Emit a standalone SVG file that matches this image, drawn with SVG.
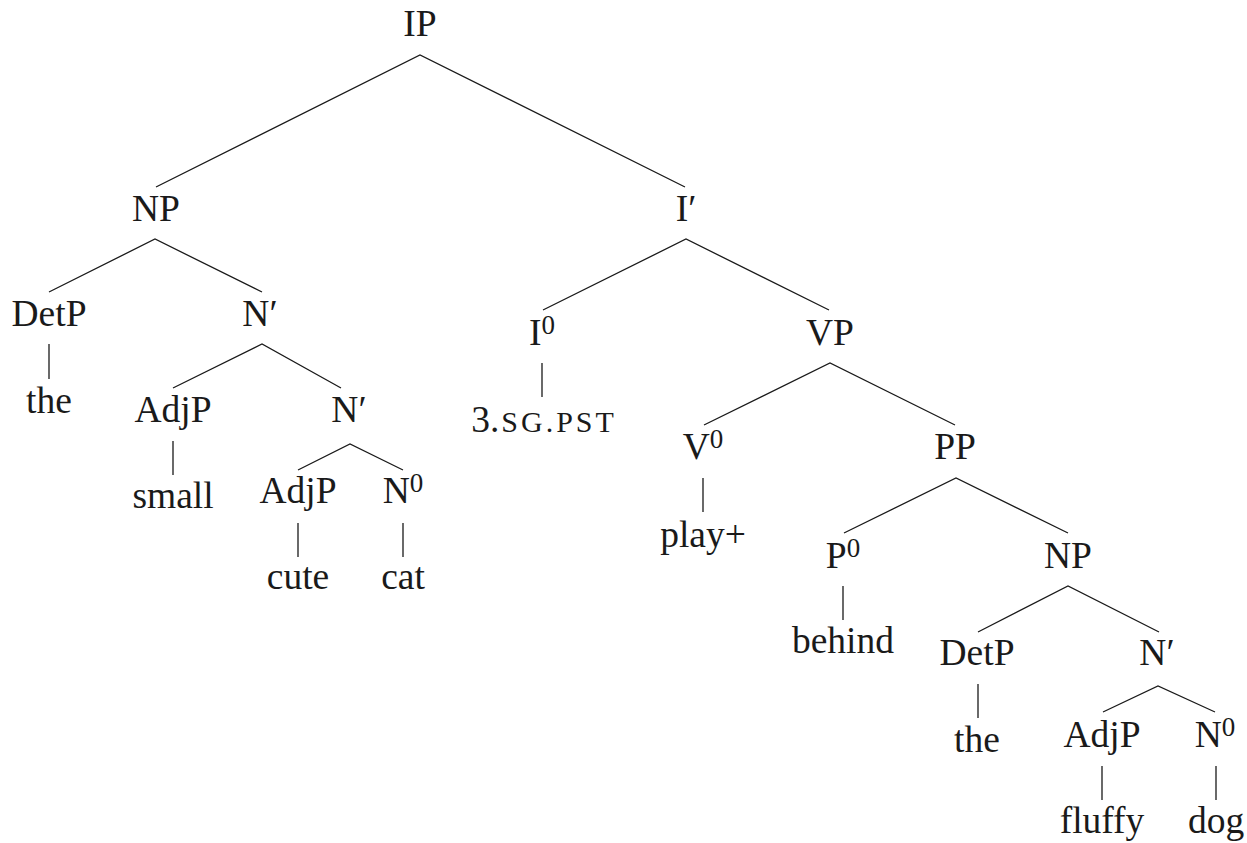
<svg xmlns="http://www.w3.org/2000/svg" width="1247" height="843" viewBox="0 0 1247 843">
<style>
  .lbl { font-family: "Liberation Serif", "Times New Roman", serif; font-size: 37.5px; fill: #1a1a1a; text-anchor: middle; }
  .sup { font-size: 27px; }
  .sc { font-size: 30px; letter-spacing: 3px; }
  .edge { fill: none; stroke: #1a1a1a; stroke-width: 1.3; }
</style>
<rect width="1247" height="843" fill="#ffffff"/>
<g id="connectors">
  <polyline class="edge" points="156,187 420,55 685,187"/>
  <polyline class="edge" points="49,292 155,239 262,292"/>
  <line class="edge" x1="49" y1="344" x2="49" y2="379"/>
  <polyline class="edge" points="173,388 262,344 341,388"/>
  <line class="edge" x1="173" y1="441" x2="173" y2="475"/>
  <polyline class="edge" points="298,470 350,444 403,470"/>
  <line class="edge" x1="298" y1="523" x2="298" y2="557"/>
  <line class="edge" x1="403" y1="523" x2="403" y2="557"/>
  <polyline class="edge" points="543,310 686,239 829,310"/>
  <line class="edge" x1="542" y1="363" x2="542" y2="397"/>
  <polyline class="edge" points="704,425 830,363 955,425"/>
  <line class="edge" x1="703" y1="478" x2="703" y2="512"/>
  <polyline class="edge" points="844,533 956,478 1068,533"/>
  <line class="edge" x1="843" y1="586" x2="843" y2="620"/>
  <polyline class="edge" points="978,632 1068,586 1159,632"/>
  <line class="edge" x1="978" y1="684" x2="978" y2="718"/>
  <polyline class="edge" points="1103,712 1158,686 1215,712"/>
  <line class="edge" x1="1102" y1="766" x2="1102" y2="800"/>
  <line class="edge" x1="1216" y1="766" x2="1216" y2="800"/>
</g>
<g id="node-IP"><text class="lbl" x="420" y="36">IP</text></g>
<g id="node-NP1"><text class="lbl" x="156" y="221">NP</text></g>
<g id="node-Ibar"><text class="lbl" x="686" y="221">I′</text></g>
<g id="node-DetP1"><text class="lbl" x="49" y="326">DetP</text></g>
<g id="node-Nbar1"><text class="lbl" x="260" y="326">N′</text></g>
<g id="node-the1"><text class="lbl" x="49" y="413">the</text></g>
<g id="node-AdjP1"><text class="lbl" x="173" y="422">AdjP</text></g>
<g id="node-Nbar2"><text class="lbl" x="349" y="422">N′</text></g>
<g id="node-small"><text class="lbl" x="173" y="508">small</text></g>
<g id="node-AdjP2"><text class="lbl" x="298" y="503">AdjP</text></g>
<g id="node-N0a"><text class="lbl" x="403" y="503">N<tspan class="sup" dy="-11">0</tspan></text></g>
<g id="node-cute"><text class="lbl" x="298" y="589">cute</text></g>
<g id="node-cat"><text class="lbl" x="403" y="589">cat</text></g>
<g id="node-I0"><text class="lbl" x="542" y="345">I<tspan class="sup" dy="-11">0</tspan></text></g>
<g id="node-infl"><text class="lbl" x="544" y="432">3.<tspan class="sc" dx="2">SG.PST</tspan></text></g>
<g id="node-VP"><text class="lbl" x="830" y="345">VP</text></g>
<g id="node-V0"><text class="lbl" x="703" y="459">V<tspan class="sup" dy="-11">0</tspan></text></g>
<g id="node-play"><text class="lbl" x="703" y="547">play+</text></g>
<g id="node-PP"><text class="lbl" x="955" y="459">PP</text></g>
<g id="node-P0"><text class="lbl" x="843" y="568">P<tspan class="sup" dy="-11">0</tspan></text></g>
<g id="node-behind"><text class="lbl" x="843" y="653">behind</text></g>
<g id="node-NP2"><text class="lbl" x="1068" y="568">NP</text></g>
<g id="node-DetP2"><text class="lbl" x="977" y="665">DetP</text></g>
<g id="node-the2"><text class="lbl" x="977" y="752">the</text></g>
<g id="node-Nbar3"><text class="lbl" x="1157" y="665">N′</text></g>
<g id="node-AdjP3"><text class="lbl" x="1102" y="747">AdjP</text></g>
<g id="node-N0b"><text class="lbl" x="1215" y="747">N<tspan class="sup" dy="-11">0</tspan></text></g>
<g id="node-fluffy"><text class="lbl" x="1102" y="833">fluffy</text></g>
<g id="node-dog"><text class="lbl" x="1216" y="833">dog</text></g>
</svg>
